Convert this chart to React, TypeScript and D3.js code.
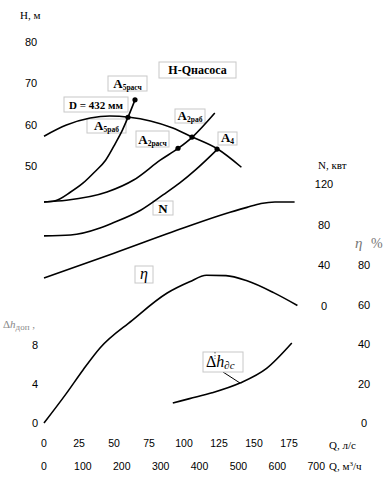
import React from "react";
import * as d3 from "d3";

// расход, л/с и напор, м
const qHQ = [0, 16, 33, 47, 61, 76, 92, 106, 124, 141];
const hHQ = [57.2, 59.9, 61.6, 62.1, 61.8, 60.9, 59.2, 57.0, 54.1, 49.7];

// характеристики сети
const qA5 = [0, 8, 19, 28, 36, 44, 51, 56, 60, 65];
const hA5 = [41.3, 41.6, 43.7, 45.9, 48.5, 51.4, 55.5, 58.7, 61.8, 66];
const qA2 = [0, 16, 45, 64, 83, 96, 106, 122];
const hA2 = [41.3, 41.7, 43.7, 46.6, 51.4, 54.3, 57.0, 62.8];
const qA4 = [0, 19, 40, 49, 69, 85, 97, 108, 124];
const hA4 = [33.1, 33.3, 35.0, 36.2, 39.3, 43.0, 45.9, 49.0, 54.1];

// мощность, кВт
const qN = [0, 50, 100, 130, 145, 155, 165, 179];
const nN = [27.5, 52, 77, 91, 97, 100.8, 102.3, 102.3];

// КПД, %
const qEta = [0, 16, 28, 40, 63, 88, 104, 116, 130, 145, 164, 181];
const etaV = [0, 15, 27, 38, 52, 65.8, 71.5, 74.8, 74.6, 72, 66, 59.5];

// допустимый кавитационный запас, м
const qDh = [92, 104, 120, 140, 159, 177];
const dhV = [2.05, 2.5, 3.1, 4.1, 5.6, 8.2];

// рабочие точки
const ptQ = [65, 60, 95.7, 105.7, 123.6];
const ptH = [66, 61.8, 54.3, 57.0, 54.1];

const qTicks = [0, 25, 50, 75, 100, 125, 150, 175];
const qmTicks = [0, 100, 200, 300, 400, 500, 600, 700];
const hTicks = [80, 70, 60, 50];
const nTicks = [120, 80, 40, 0];
const etaTicks = [80, 60, 40, 20, 0];
const dhTicks = [8, 4, 0];

const sans = "'Liberation Sans', Arial, sans-serif";
const serif = "'Liberation Serif', 'Times New Roman', serif";

function zip(a: number[], b: number[]): [number, number][] {
  return a.map((v, i) => [v, b[i]]);
}

function Box({ x, y, w, h, children }: any) {
  return (
    <g>
      <rect x={x} y={y} width={w} height={h} fill="#fff" stroke="#c8c8c8" strokeWidth={1} />
      {children}
    </g>
  );
}

function ALabel({ x, y, w, h, sub }: any) {
  return (
    <Box x={x} y={y} w={w} h={h}>
      <text x={x + w / 2} y={y + h - 3.5} textAnchor="middle" fontFamily={serif} fontWeight="bold" fontSize={13}>
        A<tspan fontSize={7.5} dy={2}>{sub}</tspan>
      </text>
    </Box>
  );
}

export default function App() {
  const x = d3.scaleLinear().domain([0, 175]).range([44, 289]);
  const xm = d3.scaleLinear().domain([0, 700]).range([44, 44 + (700 / 3.6) * 1.4]);
  const yH = d3.scaleLinear().domain([80, 50]).range([42, 166]);
  const yN = d3.scaleLinear().domain([0, 120]).range([306, 184]);
  const yEta = d3.scaleLinear().domain([0, 80]).range([423, 265]);
  const yDh = d3.scaleLinear().domain([0, 8]).range([423, 345]);

  const mk = (ys: d3.ScaleLinear<number, number>) =>
    d3
      .line<[number, number]>()
      .x((d) => x(d[0]))
      .y((d) => ys(d[1]))
      .curve(d3.curveMonotoneX);

  const lineH = mk(yH);
  const lineN = mk(yN);
  const lineEta = mk(yEta);
  const lineDh = mk(yDh);

  const curves = [
    lineH(zip(qHQ, hHQ)),
    lineH(zip(qA5, hA5)),
    lineH(zip(qA2, hA2)),
    lineH(zip(qA4, hA4)),
    lineN(zip(qN, nN)),
    lineEta(zip(qEta, etaV)),
    lineDh(zip(qDh, dhV)),
  ];

  return (
    <svg width={387} height={481} style={{ position: "absolute", left: 0, top: 0, background: "#fff" }}>
      {/* шкала H */}
      <text x={20} y={19} fontFamily={serif} fontSize={11}>H, м</text>
      {hTicks.map((t) => (
        <text key={t} x={31} y={yH(t) + 4} textAnchor="middle" fontFamily={sans} fontSize={11}>{t}</text>
      ))}

      {/* шкала N */}
      <text x={318} y={169} fontFamily={serif} fontSize={11}>N, квт</text>
      {nTicks.map((t) => (
        <text key={t} x={324} y={yN(t) + 4} textAnchor="middle" fontFamily={sans} fontSize={11}>{t}</text>
      ))}

      {/* шкала КПД */}
      <text x={355} y={248} fontFamily={serif} fontSize={15} fontStyle="italic" fill="#777">η</text>
      <text x={371} y={248} fontFamily={serif} fontSize={14} fill="#777">%</text>
      {etaTicks.map((t) => (
        <text key={t} x={364} y={yEta(t) + 4} textAnchor="middle" fontFamily={sans} fontSize={11}>{t}</text>
      ))}

      {/* шкала Δh */}
      <text x={3} y={328} fontFamily={serif} fontSize={11} fill="#888">
        Δ<tspan fontStyle="italic">h</tspan>
        <tspan fontSize={9} dy={2}>доп</tspan>
        <tspan dy={-2}> ,</tspan>
      </text>
      {dhTicks.map((t) => (
        <text key={t} x={35} y={yDh(t) + 4} textAnchor="middle" fontFamily={sans} fontSize={11}>{t}</text>
      ))}

      {/* шкалы Q */}
      {qTicks.map((t) => (
        <text key={t} x={x(t)} y={447} textAnchor="middle" fontFamily={sans} fontSize={10.5}>{t}</text>
      ))}
      {qmTicks.map((t) => (
        <text key={t} x={xm(t)} y={470} textAnchor="middle" fontFamily={sans} fontSize={10.5}>{t}</text>
      ))}
      <text x={329} y={449} fontFamily={serif} fontSize={11}>Q, л/с</text>
      <text x={329} y={470} fontFamily={serif} fontSize={11}>
        Q, м<tspan fontSize={7} dy={-4}>3</tspan><tspan dy={4}>/ч</tspan>
      </text>

      {/* подписи */}
      <Box x={159} y={62} w={77} h={16}>
        <text x={197.5} y={74} textAnchor="middle" fontFamily={serif} fontWeight="bold" fontSize={12}>H-Qнасоса</text>
      </Box>
      <ALabel x={108} y={76} w={39} h={15} sub="5расч" />
      <Box x={64} y={97} w={64} h={15}>
        <text x={96} y={108.5} textAnchor="middle" fontFamily={serif} fontWeight="bold" fontSize={11}>D = 432 мм</text>
      </Box>
      <ALabel x={87} y={119} w={39} h={14} sub="5раб" />
      <ALabel x={136} y={131} w={33} h={16} sub="2расч" />
      <ALabel x={175} y={109} w={30} h={14} sub="2раб" />
      <ALabel x={218} y={132} w={19} h={13} sub="4" />
      <Box x={153} y={201} w={20} h={14}>
        <text x={163} y={212.5} textAnchor="middle" fontFamily={serif} fontWeight="bold" fontSize={13}>N</text>
      </Box>
      <Box x={135} y={266} w={18} h={17}>
        <text x={144} y={279} textAnchor="middle" fontFamily={serif} fontStyle="italic" fontSize={16}>η</text>
      </Box>
      <line x1={223} y1={372} x2={x(140)} y2={yDh(4.1)} stroke="#000" strokeWidth={1} />
      <Box x={203} y={352} w={40} h={20}>
        <text x={206} y={367} fontFamily={serif} fontSize={16}>
          Δ<tspan fontStyle="italic">h</tspan>
          <tspan fontStyle="italic" fontSize={11} dy={2}>∂c</tspan>
        </text>
      </Box>
      <line x1={215} y1={352} x2={215} y2={359} stroke="#000" strokeWidth={0.6} strokeDasharray="1.5,1.5" />

      {/* кривые поверх подписей */}
      {curves.map((d, i) => (
        <path key={i} d={d || ""} fill="none" stroke="#000" strokeWidth={1.6} />
      ))}
      {ptQ.map((q, i) => (
        <circle key={i} cx={x(q)} cy={yH(ptH[i])} r={2.6} fill="#000" />
      ))}
    </svg>
  );
}
